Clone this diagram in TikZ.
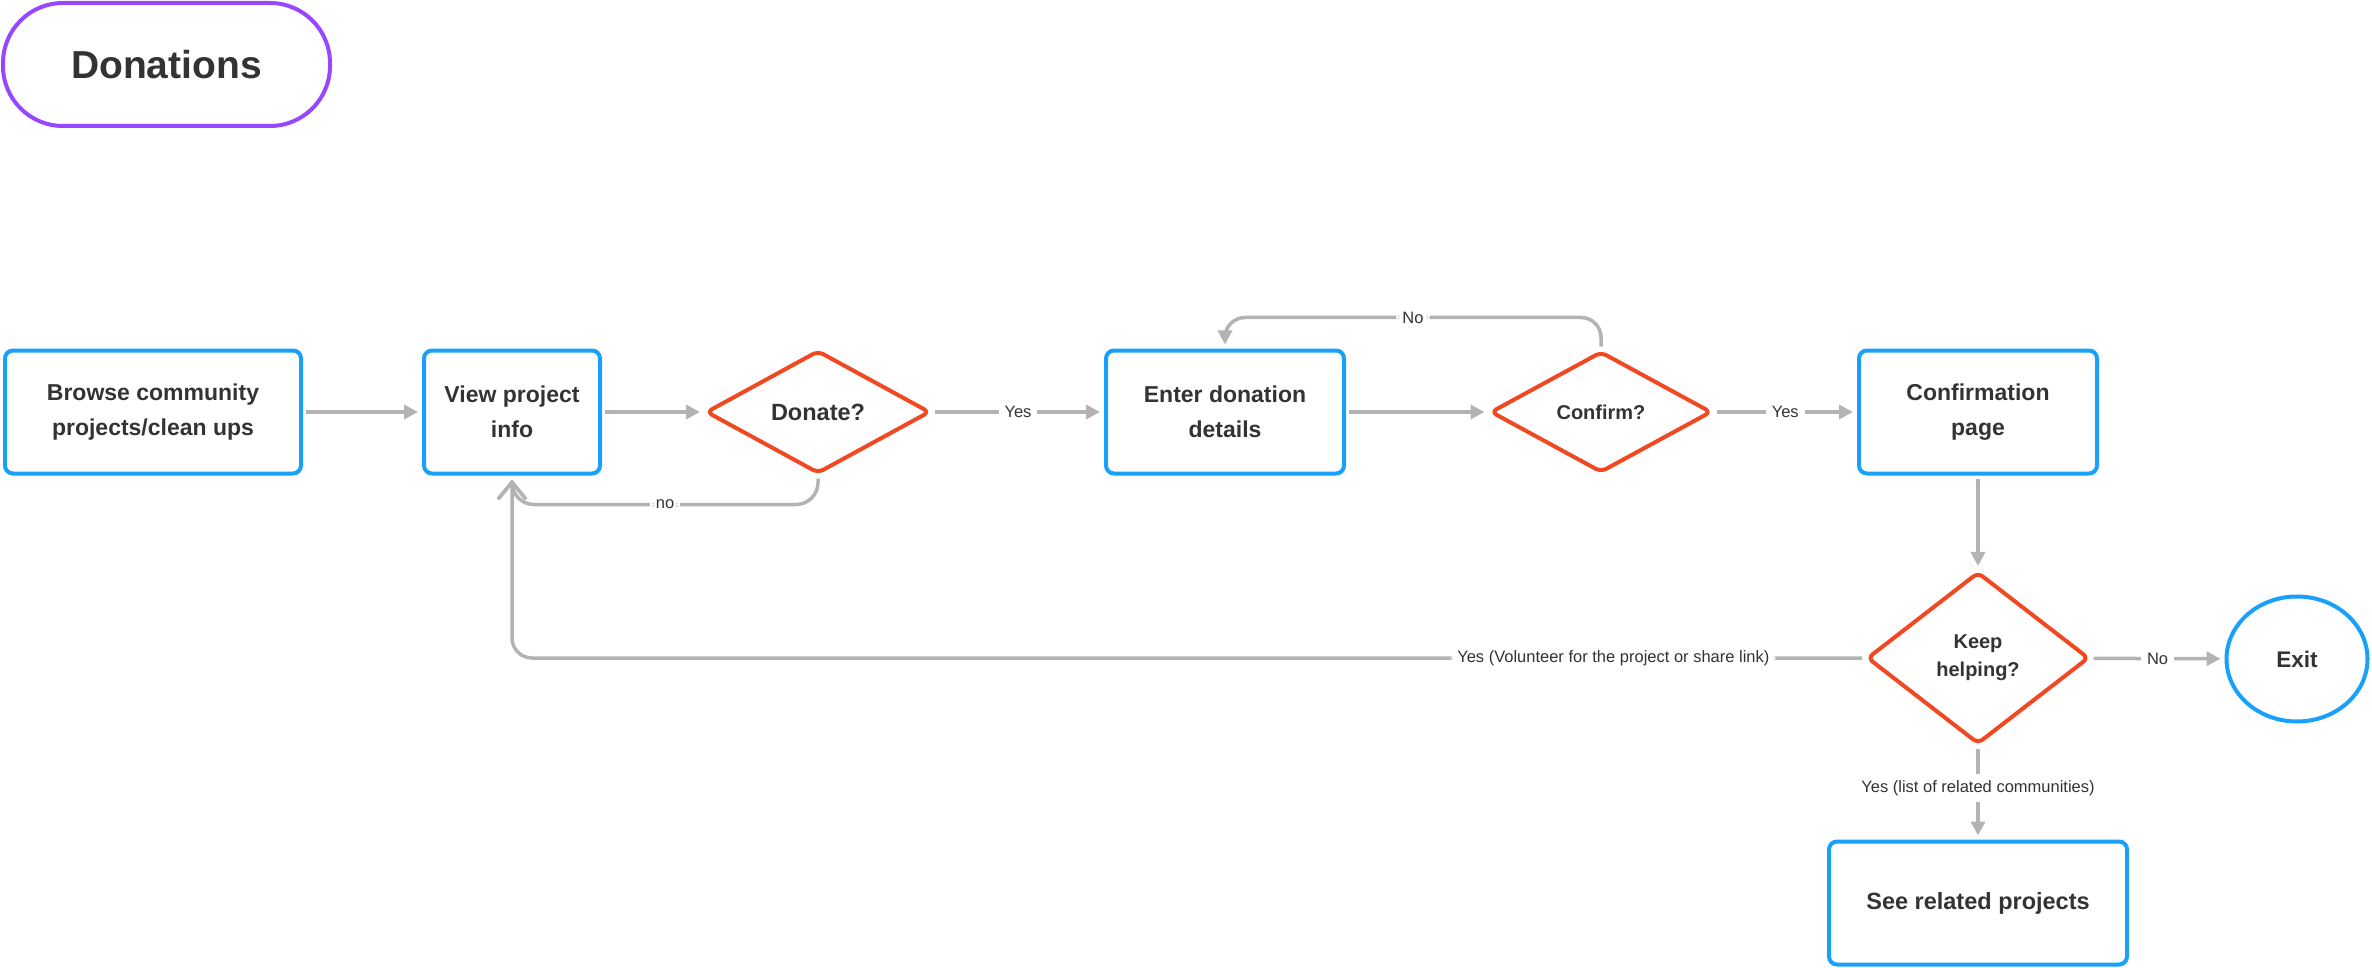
\documentclass[tikz,border=0pt]{standalone}
\usepackage{fontspec}
\setmainfont{Liberation Sans}
\usetikzlibrary{arrows.meta,shapes.geometric}
\definecolor{flowblue}{HTML}{18A0FB}
\definecolor{flowred}{HTML}{F24822}
\definecolor{flowpurple}{HTML}{9747FF}
\definecolor{flowgray}{HTML}{B3B3B3}
\definecolor{ink}{HTML}{333333}
\begin{document}
\begin{tikzpicture}[x=.5pt,y=-.5pt,line width=1.75pt,>={Triangle[length=7pt,width=7pt]},
  box/.style={draw=flowblue,line width=2pt,rounded corners=4pt,minimum height=61.5pt,align=center,text=ink,font=\fontsize{11.5}{17.5}\selectfont\bfseries},
  ask/.style={diamond,draw=flowred,line width=2pt,rounded corners=3pt,inner sep=0pt,align=center,text=ink,font=\fontsize{10}{14}\selectfont\bfseries},
  flow/.style={draw=flowgray,->,shorten <=1.5pt,shorten >=2pt},
  back/.style={flow,-{Straight Barb[length=8.5pt,width=14pt]}},
  lbl/.style={fill=white,text=ink,inner sep=3pt,font=\fontsize{8.25}{10}\selectfont}]
\useasboundingbox (0,0) rectangle (2372,968);
\node[draw=flowpurple,line width=2pt,rounded corners=30pt,minimum width=163.5pt,minimum height=61.5pt,text=ink,font=\fontsize{19.5}{24}\selectfont\bfseries] (title) at (166.5,64.5) {Donations};
% main row
\node[box,minimum width=148pt] (browse) at (153,412) {Browse community\\projects/clean ups};
\node[box,minimum width=88pt] (view) at (512,412) {View project\\info};
\node[ask,minimum width=112pt,minimum height=61.5pt,font=\fontsize{11.75}{14}\selectfont\bfseries] (donate) at (818,412) {Donate?};
\node[box,minimum width=119pt] (enter) at (1225,412) {Enter donation\\details};
\node[ask,minimum width=110.5pt,minimum height=60.5pt] (confirm) at (1601,412) {Confirm?};
\node[box,minimum width=119pt] (confpage) at (1978,412) {Confirmation\\page};
\node[ask,minimum width=111pt,minimum height=86pt] (keep) at (1978,658) {Keep\\helping?};
\node[ellipse,draw=flowblue,line width=2pt,minimum width=70.5pt,minimum height=62.5pt,text=ink,font=\fontsize{11.3}{13}\selectfont\bfseries] (exit) at (2297,659) {Exit};
\node[box,minimum width=149pt,font=\fontsize{11.75}{14}\selectfont\bfseries] (related) at (1978,903) {See related projects};
% connectors
\draw[flow] (browse) -- (view);
\draw[flow] (view) -- (donate);
\draw[flow] (donate) -- node[lbl]{Yes} (enter);
\draw[flow] (enter) -- (confirm);
\draw[flow] (confirm) -- node[lbl]{Yes} (confpage);
\draw[flow] (confpage) -- (keep);
\draw[flow] (keep) -- node[lbl]{No} (exit);
\draw[flow] (keep) -- node[lbl,pos=.45]{Yes (list of related communities)} (related);
\draw[flow,rounded corners=10pt] (confirm.north) -- ++(0,-32) -| (enter.north) node[lbl,pos=.25]{No};
\draw[back,rounded corners=11pt] (donate.south) -- ++(0,29) -| (view.south) node[lbl,pos=.25]{no};
\draw[back,rounded corners=10pt] (keep.west) -| (view.south) node[lbl,pos=.093]{Yes (Volunteer for the project or share link)};
\end{tikzpicture}
\end{document}
